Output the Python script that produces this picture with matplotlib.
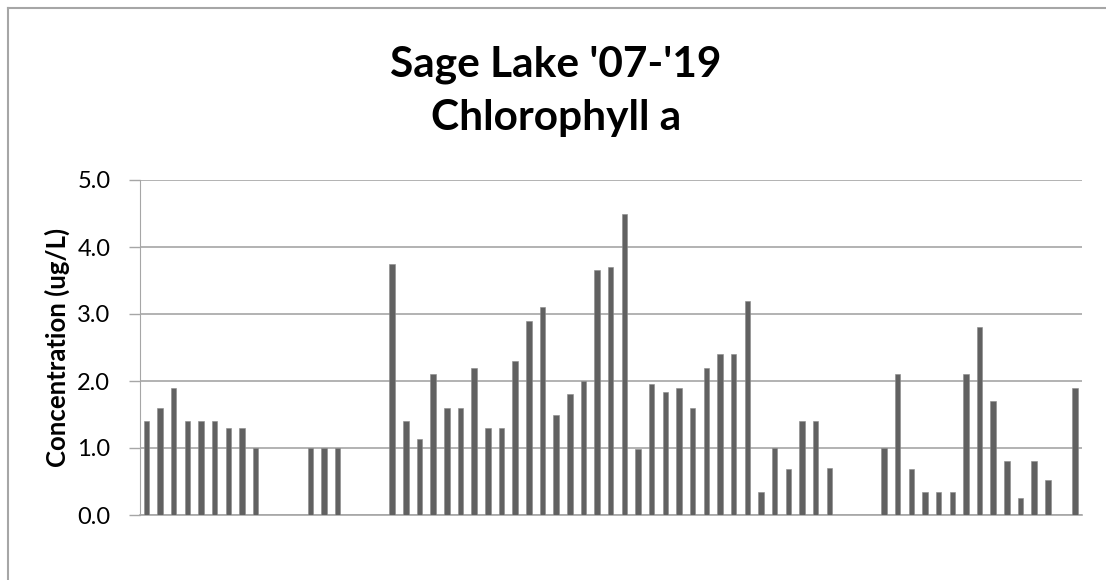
#!/usr/bin/env python3
"""Sage Lake chlorophyll a bar chart, 2007-2019 samples."""

import matplotlib
matplotlib.use("Agg")
import matplotlib.pyplot as plt
import numpy as np
from matplotlib.lines import Line2D

# one slot per sampling category; None = no sample in that slot
CHLOROPHYLL = [
    1.4, 1.6, 1.9, 1.4, 1.4, 1.4, 1.3, 1.3, 1.0, None,
    None, None, 1.0, 1.0, 1.0, None, None, None, 3.75, 1.41,
    1.13, 2.1, 1.6, 1.6, 2.2, 1.3, 1.3, 2.3, 2.9, 3.1,
    1.5, 1.8, 2.0, 3.66, 3.7, 4.49, 0.98, 1.95, 1.83, 1.9,
    1.6, 2.2, 2.4, 2.4, 3.2, 0.34, 1.0, 0.68, 1.4, 1.4,
    0.7, None, None, None, 1.0, 2.1, 0.68, 0.34, 0.34, 0.34,
    2.1, 2.8, 1.7, 0.8, 0.26, 0.8, 0.52, None, 1.9,
]
Y_TICKS = [0.0, 1.0, 2.0, 3.0, 4.0, 5.0]
TITLE = "Sage Lake '07-'19\nChlorophyll a"
Y_LABEL = "Concentration (ug/L)"

BAR_COLOR = "#616161"
GRID_COLOR = "#A6A6A6"
FONT = "Lato"

W, H = 1106, 580
fig = plt.figure(figsize=(W / 100, H / 100), dpi=100)
ax = fig.add_axes([139.5 / W, 1 - 515 / H, (1082 - 139.5) / W, (515 - 180) / H])

x = np.arange(len(CHLOROPHYLL))
vals = np.array([np.nan if v is None else v for v in CHLOROPHYLL], dtype=float)
ax.bar(x, vals, width=0.4, color=BAR_COLOR, edgecolor="#8a8a8a", linewidth=0.4, zorder=3)

ax.set_xlim(-0.5, len(CHLOROPHYLL) - 0.5)
ax.set_ylim(0, 5.0)
ax.set_yticks(Y_TICKS)
ax.set_yticklabels([f"{t:.1f}" for t in Y_TICKS], fontsize=17, family=FONT)
ax.set_xticks([])
ax.grid(True, axis="y", color=GRID_COLOR, linewidth=1.2, zorder=0)
ax.tick_params(axis="y", length=8, width=1, color=GRID_COLOR, pad=13)

for side in ["top", "right"]:
    ax.spines[side].set_visible(False)
ax.spines["left"].set_color(GRID_COLOR)
ax.spines["bottom"].set_color(GRID_COLOR)
ax.spines["bottom"].set_linewidth(1.2)

ax.set_ylabel(Y_LABEL, fontsize=18.5, fontweight="bold", family=FONT)
ax.yaxis.set_label_coords(-0.0737, 0.5)

# title, one line per row so each baseline sits where the reference has it
for line, base in zip(TITLE.split("\n"), [77, 130]):
    fig.text(556 / W, 1 - base / H, line, ha="center", va="baseline",
             fontsize=30.5, fontweight="bold", family=FONT)

# chart-area border (top and left edges visible)
fig.add_artist(Line2D([7.5 / W, 7.5 / W], [0, 1 - 8 / H], transform=fig.transFigure,
                      color="#A6A6A6", linewidth=1.5))
fig.add_artist(Line2D([7.5 / W, 1], [1 - 8 / H, 1 - 8 / H], transform=fig.transFigure,
                      color="#A6A6A6", linewidth=1.5))

fig.savefig("out.png", dpi=100)
